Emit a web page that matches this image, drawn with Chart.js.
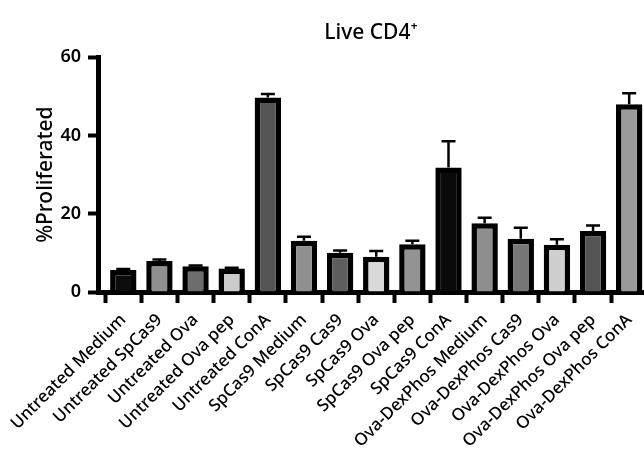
<!DOCTYPE html>
<html>
<head>
<meta charset="utf-8">
<script src="https://cdn.jsdelivr.net/npm/chart.js@4.4.1/dist/chart.umd.min.js"></script>
<style>
  html, body { margin: 0; padding: 0; background: #ffffff; }
  #wrap { width: 644px; height: 451px; position: relative; }
</style>
</head>
<body>
<div id="wrap"><canvas id="c" width="644" height="451"></canvas></div>
<script>
const categories = [
  "Untreated Medium", "Untreated SpCas9", "Untreated Ova", "Untreated Ova pep", "Untreated ConA",
  "SpCas9 Medium", "SpCas9 Cas9", "SpCas9 Ova", "SpCas9 Ova pep", "SpCas9 ConA",
  "Ova-DexPhos Medium", "Ova-DexPhos Cas9", "Ova-DexPhos Ova", "Ova-DexPhos Ova pep", "Ova-DexPhos ConA"
];
const proliferated = [5.6, 7.9, 6.6, 6.0, 49.7, 13.1, 10.0, 9.0, 12.2, 31.8, 17.6, 13.6, 12.1, 15.6, 48.0];
const errorUp = [0.3, 0.4, 0.2, 0.2, 0.9, 1.0, 0.6, 1.5, 0.9, 6.7, 1.4, 2.8, 1.4, 1.4, 2.8];
const barColors = [
  "#0c0c0c", "#8f8f8f", "#6d6d6d", "#cbcbcb", "#555555",
  "#8f8f8f", "#5e5e5e", "#dadada", "#939393", "#0a0a0a",
  "#8e8e8e", "#767676", "#cfcfcf", "#555555", "#9a9a9a"
];
const yTicks = [0, 20, 40, 60];

const FONT = "'Noto Sans', 'Open Sans', sans-serif";

const errorBars = {
  id: 'errorBars',
  afterDatasetsDraw(chart) {
    const meta = chart.getDatasetMeta(0);
    const ys = chart.scales.y;
    const ctx = chart.ctx;
    ctx.save();
    ctx.strokeStyle = '#000';
    ctx.lineWidth = 2.5;
    meta.data.forEach((bar, i) => {
      const top = ys.getPixelForValue(proliferated[i]);
      const cap = ys.getPixelForValue(proliferated[i] + errorUp[i]);
      ctx.beginPath();
      ctx.moveTo(bar.x, top);
      ctx.lineTo(bar.x, cap);
      ctx.moveTo(bar.x - 7, cap);
      ctx.lineTo(bar.x + 7, cap);
      ctx.stroke();
    });
    ctx.restore();
  }
};

new Chart(document.getElementById('c'), {
  type: 'bar',
  data: {
    datasets: [{
      data: proliferated.map((v, i) => ({ x: i, y: v })),
      backgroundColor: barColors,
      borderColor: '#000',
      borderWidth: 5.5,
      borderSkipped: 'start',
      barPercentage: 0.73,
      categoryPercentage: 1.0
    }]
  },
  options: {
    responsive: false,
    animation: false,
    devicePixelRatio: 1,
    layout: { padding: 0 },
    plugins: {
      legend: { display: false },
      tooltip: { enabled: false },
      title: {
        display: true,
        text: 'Live CD4\u207A',
        fullSize: false,
        color: '#000',
        font: { family: FONT, size: 21, weight: '500' },
        padding: { top: 20, bottom: 12 }
      }
    },
    scales: {
      x: {
        type: 'linear',
        min: -0.70,
        max: 14.41,
        offset: false,
        grid: { drawOnChartArea: false, drawTicks: true, tickLength: 11, tickWidth: 4, tickColor: '#000' },
        border: { display: true, color: '#000', width: 5 },
        afterBuildTicks(s) { s.ticks = categories.map((c, i) => ({ value: i })); },
        afterFit(s) { s.paddingLeft = 0; s.paddingRight = 0; s.height = 159; },
        ticks: {
          autoSkip: false,
          minRotation: 45,
          maxRotation: 45,
          padding: 7,
          color: '#000',
          font: { family: FONT, size: 17, weight: '500' },
          callback: (v) => categories[v]
        }
      },
      y: {
        min: 0,
        max: 60,
        afterBuildTicks(s) { s.ticks = yTicks.map(v => ({ value: v })); },
        afterFit(s) { s.width = 98; s.paddingTop = 0; s.paddingBottom = 0; },
        grid: { drawOnChartArea: false, drawTicks: true, tickLength: 10, tickWidth: 4, tickColor: '#000' },
        border: { display: true, color: '#000', width: 5 },
        ticks: {
          padding: 7,
          color: '#000',
          font: { family: FONT, size: 18, weight: '600' }
        },
        title: {
          display: true,
          text: '%Proliferated',
          color: '#000',
          font: { family: FONT, size: 21, weight: '500' },
          padding: { top: 33, bottom: 0 }
        }
      }
    }
  },
  plugins: [errorBars]
});
</script>
</body>
</html>
